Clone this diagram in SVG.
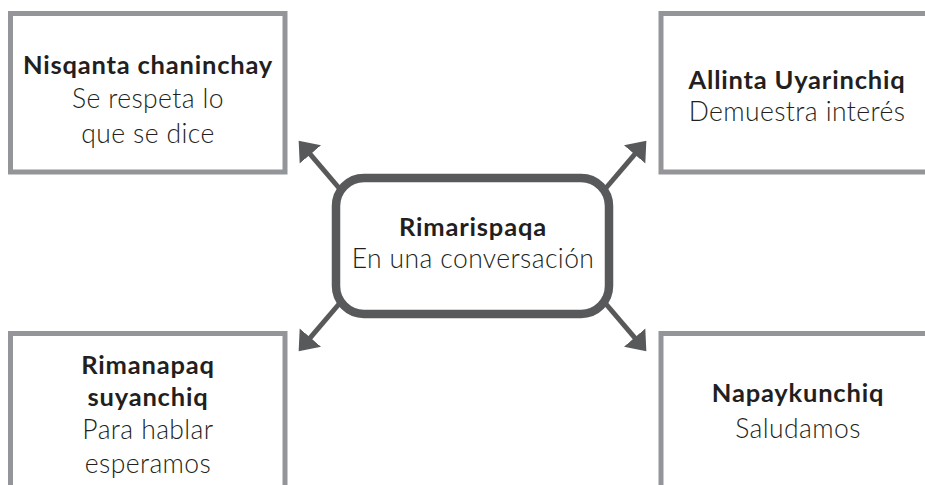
<svg xmlns="http://www.w3.org/2000/svg" width="925" height="485" viewBox="0 0 925 485">
  <style>
    .box { fill: #ffffff; stroke: #939598; stroke-width: 5; }
    .hub { fill: #ffffff; stroke: #58595b; stroke-width: 8.5; }
    .conn { stroke: #58595b; stroke-width: 5; fill: none; marker-end: url(#head); }
    text { font-family: Lato, "Open Sans", sans-serif; fill: #231f20; text-anchor: middle; }
    .t { font-weight: 700; font-size: 25.5px; letter-spacing: 0.8px; }
    .s { font-weight: 300; font-size: 26.5px; letter-spacing: 0.4px; }
  </style>
  <defs>
    <marker id="head" markerUnits="userSpaceOnUse" viewBox="0 -15 20 30" refX="1" refY="0" markerWidth="20" markerHeight="30" orient="auto">
      <path d="M0,-14 L18,0 L0,14 Z" fill="#58595b"/>
    </marker>
  </defs>

  <!-- arrows radiating from the central box -->
  <g id="connectors">
    <line class="conn" x1="345" y1="195" x2="309.7" y2="153.7"/>
    <line class="conn" x1="600" y1="195" x2="635.3" y2="153.7"/>
    <line class="conn" x1="345" y1="297" x2="309.7" y2="338.3"/>
    <line class="conn" x1="600" y1="297" x2="635.3" y2="338.3"/>
  </g>

  <g id="node-nisqanta">
    <rect class="box" x="10.5" y="13.5" width="274.5" height="158.5"/>
    <text class="t" x="148" y="74">Nisqanta chaninchay</text>
    <text class="s" x="148" y="108">Se respeta lo</text>
    <text class="s" x="148" y="143">que se dice</text>
  </g>

  <g id="node-allinta">
    <rect class="box" x="661" y="13.5" width="300" height="158.5"/>
    <text class="t" x="797" y="89">Allinta Uyarinchiq</text>
    <text class="s" x="797" y="121">Demuestra interés</text>
  </g>

  <g id="node-rimanapaq">
    <rect class="box" x="10.5" y="333.5" width="274.5" height="200"/>
    <text class="t" x="148" y="374">Rimanapaq</text>
    <text class="t" x="148" y="406">suyanchiq</text>
    <text class="s" x="148" y="439">Para hablar</text>
    <text class="s" x="148" y="473">esperamos</text>
  </g>

  <g id="node-napaykunchiq">
    <rect class="box" x="661" y="333.5" width="300" height="200"/>
    <text class="t" x="798" y="402">Napaykunchiq</text>
    <text class="s" x="798" y="438">Saludamos</text>
  </g>

  <g id="node-rimarispaqa">
    <rect class="hub" x="336" y="178" width="273" height="136" rx="28" ry="28"/>
    <text class="t" x="473" y="236">Rimarispaqa</text>
    <text class="s" x="473" y="268">En una conversación</text>
  </g>
</svg>
